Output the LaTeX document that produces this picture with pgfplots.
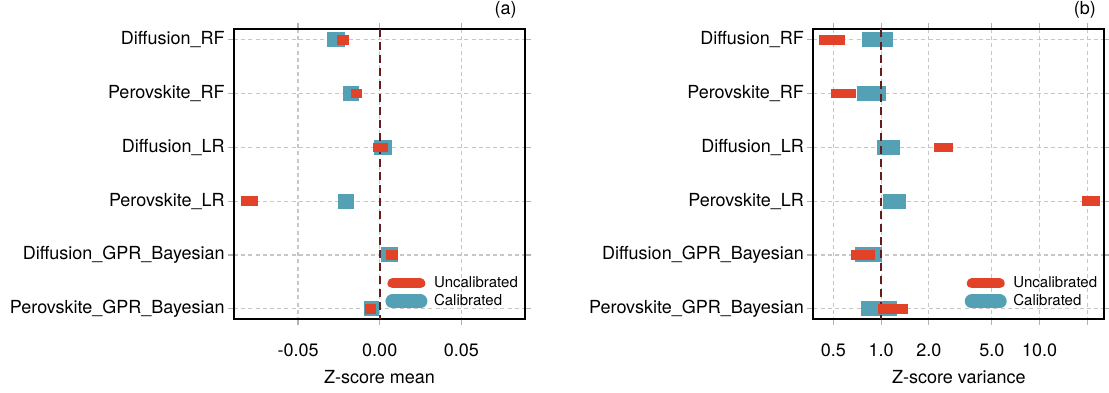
\documentclass[border=0pt]{standalone}
\usepackage{fontspec}
\setmainfont{TeX Gyre Heros}
\usepackage{pgfplots}
\pgfplotsset{compat=1.18}
\definecolor{ured}{RGB}{226,66,40}
\definecolor{cteal}{RGB}{84,160,180}
\definecolor{refline}{RGB}{100,28,28}
\pgfplotsset{
  panel/.style={
    scale only axis, width=145.5pt, height=145pt,
    y dir=reverse, ymin=-0.2, ymax=5.19,
    ytick={0,...,5},
    yticklabels={Diffusion\_RF, Perovskite\_RF, Diffusion\_LR, Perovskite\_LR, Diffusion\_GPR\_Bayesian, Perovskite\_GPR\_Bayesian},
    grid=major,
    major grid style={black!22, dash pattern=on 2pt off 1.6pt, line width=0.6pt},
    axis line style={line width=1pt},
    tick align=outside,
    major tick length=3pt,
    tick style={black!30, line width=0.6pt},
    scaled x ticks=false,
    xticklabel style={yshift=-6pt},
    yticklabel style={xshift=1.5pt},
    xlabel style={yshift=-1pt},
    unbounded coords=jump,
    legend style={draw=none, fill=none, at={(axis description cs:0.519,0.028)}, anchor=south west, inner sep=0pt, row sep=0pt, column sep=0pt,
      nodes={font=\fontsize{7.5}{9}\selectfont, text height=5.6pt, text depth=1.4pt, inner sep=1pt}},
    legend cell align=left,
    legend image code/.code={\path[draw=none, fill=none] (-3.5pt,0pt) -- (19.8pt,0pt); \draw[##1, line cap=round] (0pt,0pt) -- (14pt,0pt);},
    calib/.style={cteal, line width=7.5pt, line cap=butt, forget plot},
    uncal/.style={ured, line width=4.75pt, line cap=butt, forget plot},
  }
}
\begin{document}
\fontsize{9}{10.8}\selectfont
\begin{tikzpicture}
\useasboundingbox (0pt,0pt) rectangle (554.5pt,196pt);
\begin{axis}[panel, name=A, at={(117pt,36.5pt)}, anchor=south west,
  xmin=-0.0892, xmax=0.0889,
  xtick={-0.05,0,0.05}, xticklabels={-0.05,0.00,0.05},
  xlabel={Z-score mean}]
\addlegendimage{ured, line width=5pt}
\addlegendentry{Uncalibrated}
\addlegendimage{cteal, line width=7pt}
\addlegendentry{Calibrated}
\addplot[calib] coordinates {
(-0.0321,0) (-0.0214,0) (nan,nan)
(-0.0225,1) (-0.0129,1) (nan,nan)
(-0.0035,2) (0.0075,2) (nan,nan)
(-0.0257,3) (-0.0157,3) (nan,nan)
(0.0008,4) (0.0114,4) (nan,nan)
(-0.0098,5) (-0.0004,5)};
\addplot[refline, line width=1pt, dash pattern=on 4pt off 2.5pt, forget plot] coordinates {(0,-0.2) (0,5.19)};
\addplot[uncal] coordinates {
(-0.0259,0) (-0.0186,0) (nan,nan)
(-0.0178,1) (-0.0108,1) (nan,nan)
(-0.0039,2) (0.0051,2) (nan,nan)
(-0.0851,3) (-0.0747,3) (nan,nan)
(0.0037,4) (0.0110,4) (nan,nan)
(-0.0090,5) (-0.0023,5)};
\end{axis}
\node[anchor=south east, inner sep=0pt, xshift=-4pt, yshift=5pt] at (A.north east) {(a)};
\begin{axis}[panel, name=B, at={(406.65pt,36.5pt)}, anchor=south west,
  xmode=log, xmin=0.3734, xmax=25.62,
  xtick={0.5,1,2,5,10,20}, xticklabels={0.5,1.0,2.0,5.0,10.0,{}},
  xlabel={Z-score variance}]
\addlegendimage{ured, line width=5pt}
\addlegendentry{Uncalibrated}
\addlegendimage{cteal, line width=7pt}
\addlegendentry{Calibrated}
\addplot[calib] coordinates {
(0.758,0) (1.185,0) (nan,nan)
(0.704,1) (1.080,1) (nan,nan)
(0.938,2) (1.320,2) (nan,nan)
(1.034,3) (1.433,3) (nan,nan)
(0.687,4) (1.019,4) (nan,nan)
(0.750,5) (1.251,5)};
\addplot[refline, line width=1pt, dash pattern=on 4pt off 2.5pt, forget plot] coordinates {(1,-0.2) (1,5.19)};
\addplot[uncal] coordinates {
(0.408,0) (0.594,0) (nan,nan)
(0.484,1) (0.694,1) (nan,nan)
(2.157,2) (2.835,2) (nan,nan)
(18.47,3) (23.92,3) (nan,nan)
(0.645,4) (0.920,4) (nan,nan)
(0.951,5) (1.469,5)};
\end{axis}
\node[anchor=south east, inner sep=0pt, xshift=-4pt, yshift=5pt] at (B.north east) {(b)};
\end{tikzpicture}
\end{document}
